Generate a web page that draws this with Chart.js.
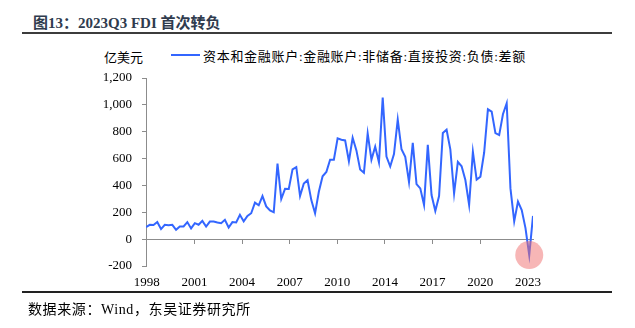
<!DOCTYPE html>
<html>
<head>
<meta charset="utf-8">
<script src="https://cdn.jsdelivr.net/npm/chart.js@4.4.0/dist/chart.umd.min.js"></script>
<style>
  body { margin: 0; width: 635px; height: 328px; background: #fff; position: relative; overflow: hidden; }
  .txt { position: absolute; white-space: nowrap; font-family: "Liberation Serif", "Noto Sans CJK SC", serif; color: #000; }
  .rule { position: absolute; }
  #wrap { position: absolute; left: 0; top: 0; width: 635px; height: 328px; }
</style>
</head>
<body>
<div class="txt" style="left:33px; top:11px; font-size:15px; font-weight:bold; color:#2f3b4e;">图13：2023Q3 FDI 首次转负</div>
<div class="rule" style="left:22px; top:32px; width:590px; height:2px; background:#3c3c3c;"></div>
<div class="txt" style="left:104px; top:47px; font-size:13px;">亿美元</div>
<div class="rule" style="left:171px; top:54px; width:29px; height:2px; background:#3366ff;"></div>
<div class="txt" style="left:203px; top:46px; font-size:13px; letter-spacing:0.7px;">资本和金融账户:金融账户:非储备:直接投资:负债:差额</div>
<div id="wrap"><canvas id="fdi"></canvas></div>
<div class="rule" style="left:22px; top:291px; width:590px; height:2px; background:#222;"></div>
<div class="txt" style="left:28px; top:298px; font-size:14px; letter-spacing:0.6px;">数据来源：Wind，东吴证券研究所</div>

<script>
// quarterly FDI liabilities, 1998Q1 - 2023Q4 (100 million USD)
const fdiValues = [
  90, 107, 105, 127, 75, 107, 104, 107, 70, 95, 95, 127,
  80, 119, 107, 136, 94, 131, 131, 124, 119, 144, 87, 127,
  124, 181, 132, 173, 193, 272, 252, 321, 244, 214, 200, 562,
  299, 375, 373, 520, 537, 321, 414, 439, 291, 193, 353, 468,
  500, 591, 591, 750, 740, 735, 580, 755, 661, 518, 494, 787,
  592, 689, 571, 1054, 615, 541, 634, 890, 669, 613, 425, 717,
  410, 378, 255, 702, 328, 210, 321, 791, 815, 669, 340, 575,
  543, 440, 255, 650, 443, 465, 645, 967, 950, 790, 775, 930,
  1012, 378, 132, 280, 217, 82, -119, 173,
];
const yearLabels = ["1998", "2001", "2004", "2007", "2010", "2014", "2017", "2020", "2023"];
const highlightIndex = 102; // 2023Q3, first negative quarter

const tickStart = 0.2;
const tickStep = 12.68;

const points = fdiValues.map((v, i) => ({ x: i, y: v }));

function yearTicks(scale) {
  scale.ticks = yearLabels.map((_, k) => ({ value: tickStart + k * tickStep }));
}

const serif = { family: "'Liberation Serif', 'Times New Roman', serif", size: 13 };

new Chart(document.getElementById("fdi"), {
  type: "line",
  data: {
    datasets: [
      {
        // pink marker over the negative quarter
        data: [{ x: highlightIndex, y: fdiValues[highlightIndex] }],
        showLine: false,
        clip: false,
        pointRadius: 14,
        pointHoverRadius: 14,
        pointBackgroundColor: "rgba(240, 110, 110, 0.5)",
        pointBorderWidth: 0,
        order: 0,
      },
      {
        label: "资本和金融账户:金融账户:非储备:直接投资:负债:差额",
        data: points,
        borderColor: "#3366ff",
        borderWidth: 2,
        pointRadius: 0,
        tension: 0,
        order: 1,
      },
    ],
  },
  options: {
    responsive: true,
    maintainAspectRatio: false,
    animation: false,
    layout: {
      padding: { left: 0, top: 78, right: 102, bottom: 32 },
    },
    plugins: {
      legend: { display: false },
      tooltip: { enabled: false },
    },
    scales: {
      x: {
        type: "linear",
        min: 0,
        max: fdiValues.length - 1,
        afterBuildTicks: yearTicks,
        afterFit: (scale) => { scale.height = 30; },
        grid: { display: false, drawTicks: false },
        border: { display: false },
        ticks: {
          color: "#000",
          font: serif,
          padding: 9,
          maxRotation: 0,
          autoSkip: false,
          callback: (value, index) => yearLabels[index],
        },
      },
      // zero line with short tick marks under each year
      x2: {
        type: "linear",
        position: { y: 0 },
        min: 0,
        max: fdiValues.length - 1,
        afterBuildTicks: yearTicks,
        grid: { drawOnChartArea: false, drawTicks: true, tickLength: 4, color: "#8c8c8c" },
        border: { display: true, color: "#8c8c8c", width: 1 },
        ticks: { display: false },
      },
      y: {
        min: -200,
        max: 1200,
        afterFit: (scale) => { scale.width = 146; },
        grid: { drawOnChartArea: false, drawTicks: true, tickLength: 4, color: "#8c8c8c" },
        border: { color: "#8c8c8c", width: 1 },
        ticks: {
          stepSize: 200,
          color: "#000",
          font: serif,
          padding: 10,
          callback: (value) => value.toLocaleString("en-US"),
        },
      },
    },
  },
});
</script>
</body>
</html>
